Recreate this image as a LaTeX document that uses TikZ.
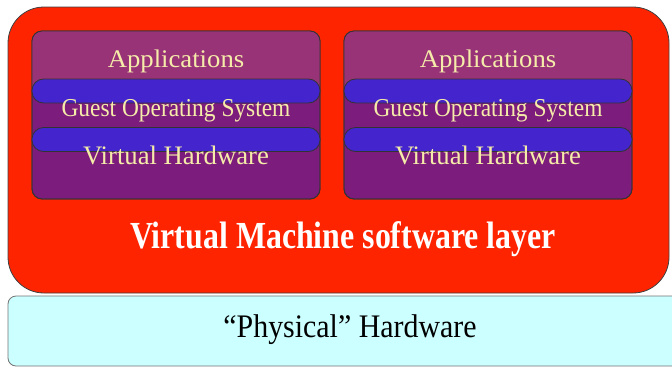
\documentclass[tikz,border=0pt]{standalone}
\usepackage{fontspec}
\setmainfont{Liberation Serif}
\definecolor{vmred}{RGB}{255,36,0}
\definecolor{hwcyan}{RGB}{204,255,255}
\definecolor{vmtop}{RGB}{153,51,120}
\definecolor{vmbody}{RGB}{124,28,124}
\definecolor{bandblue}{RGB}{68,36,204}
\definecolor{vmtextcol}{RGB}{245,236,170}
\begin{document}
\begin{tikzpicture}[x=1bp,y=-1bp,
  every node/.style={inner sep=0pt, outer sep=0pt},
  layerbox/.style={draw=black!75, line width=0.8bp, fill=vmred, rounded corners=36bp,
    minimum width=661bp, minimum height=286bp, anchor=north west},
  hwbox/.style={draw=black!55, line width=0.8bp, fill=hwcyan, rounded corners=8bp,
    minimum width=680bp, minimum height=70bp, anchor=north west},
  vmbox/.style={draw=black!80, line width=0.8bp, fill=vmbody, rounded corners=10bp,
    minimum width=288bp, minimum height=168bp, anchor=north west},
  band/.style={draw=black!80, line width=0.8bp, fill=bandblue, rounded corners=11.5bp,
    minimum width=288bp, minimum height=24bp},
  vmlabel/.style={anchor=base, text=vmtextcol, font=\fontsize{26.8}{26.8}\selectfont},
  oslabel/.style={anchor=base, text=vmtextcol, font=\fontsize{23.5}{23.5}\selectfont},
  layerlabel/.style={anchor=base, text=white, font=\fontsize{32}{32}\selectfont\bfseries},
  hwlabel/.style={anchor=base, text=black, font=\fontsize{30}{30}\selectfont}]
\useasboundingbox (0,0) rectangle (672,367);

% physical hardware and the virtualisation layer above it
\node[hwbox] (hw) at (8,296) {};
\node[layerbox] (layer) at (8,7) {};

% two virtual machines
\foreach \x/\n in {32/a,344/b}{
  \node[vmbox] (vm\n) at (\x,31) {};
  \begin{scope}
    \clip[rounded corners=10bp] (\x,31) rectangle ++(288,168);
    \fill[vmtop] (\x,31) rectangle ++(288,61);
  \end{scope}
  \draw[black!80, line width=0.8bp, rounded corners=10bp] (\x,31) rectangle ++(288,168);
  \node[band] (os\n) at (\x+144,91) {};
  \node[band] (vhw\n) at (\x+144,139.5) {};
  \node[vmlabel] (apps\n) at (\x+144,67) {\scalebox{1}[0.95]{Applications}};
  \node[oslabel] (ost\n) at (\x+144,116) {\scalebox{1}[1.1]{Guest Operating System}};
  \node[vmlabel] (vht\n) at (\x+144,164) {Virtual Hardware};
}

\node[layerlabel] (layertext) at (343,248) {\scalebox{1}[1.2]{Virtual Machine software layer}};
\node[hwlabel] (hwtext) at (350,337) {\scalebox{1}[1.1]{“Physical” Hardware}};
\end{tikzpicture}
\end{document}
